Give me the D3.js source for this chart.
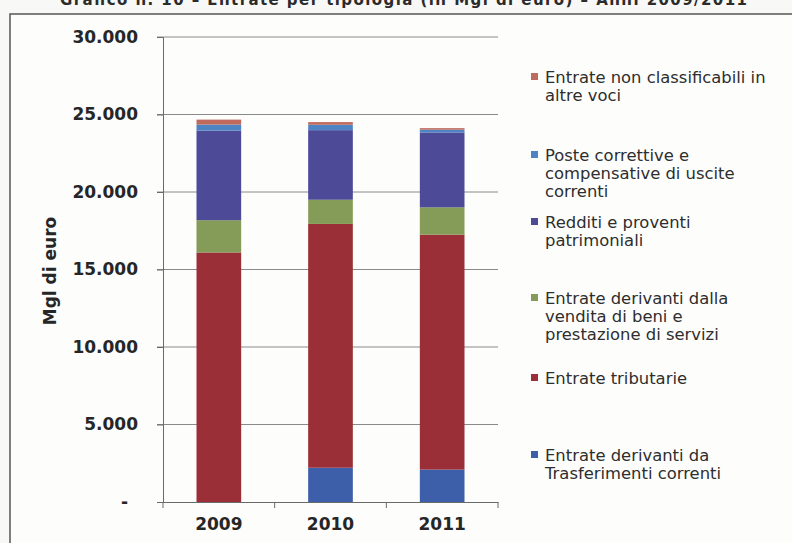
<!DOCTYPE html>
<html>
<head>
<meta charset="utf-8">
<script src="https://cdn.jsdelivr.net/npm/d3@7"></script>
<style>
  body { margin: 0; background: #f8f8f6; }
  svg { display: block; }
</style>
</head>
<body>
<script>
// data (Mgl di euro)
var years = ["2009", "2010", "2011"];
var seriesNames = [
    "Entrate derivanti da Trasferimenti correnti",
    "Entrate tributarie",
    "Entrate derivanti  dalla vendita di beni e prestazione di servizi",
    "Redditi e proventi patrimoniali",
    "Poste correttive e compensative di uscite correnti",
    "Entrate non classificabili in altre voci"
];
var trasferimenti = [0, 2210, 2090];
var tributarie = [16100, 15730, 15160];
var vendita = [2080, 1560, 1760];
var redditi = [5780, 4490, 4830];
var poste = [390, 350, 180];
var nonClass = [320, 170, 100];
var yTicks = [0, 5000, 10000, 15000, 20000, 25000, 30000];

// legend text, wrapped as in the picture (top to bottom)
var legendLines = [
    ["Entrate non classificabili in", "altre voci"],
    ["Poste correttive e", "compensative di uscite", "correnti"],
    ["Redditi e proventi", "patrimoniali"],
    ["Entrate derivanti  dalla", "vendita di beni e", "prestazione di servizi"],
    ["Entrate tributarie"],
    ["Entrate derivanti da", "Trasferimenti correnti"]
];

var colors = ["#3d5ea8", "#9a2f38", "#849c57", "#4d4a98", "#4f84c4", "#bf6a5c"];

var width = 792, height = 543;
var svg = d3.select("body").append("svg")
    .attr("width", width)
    .attr("height", height);

// title, cut off at the top edge of the scan
svg.append("text")
    .attr("x", 60).attr("y", 5)
    .attr("textLength", 687)
    .attr("font-family", "DejaVu Sans, Verdana, sans-serif")
    .attr("font-weight", "bold")
    .attr("font-size", 15)
    .attr("fill", "#2b2b2b")
    .text("Grafico n. 10 – Entrate per tipologia (in Mgl di euro) – Anni 2009/2011");

// frame of the chart (continues off the page)
svg.append("rect")
    .attr("x", 10).attr("y", 14)
    .attr("width", width).attr("height", height)
    .attr("fill", "#fdfdfc")
    .attr("stroke", "#555")
    .attr("stroke-width", 1.5);

// build table for stacking
var keys = ["trasf", "trib", "vend", "redd", "poste", "noncl"];
var table = years.map(function(y, i) {
    return {
        year: y,
        trasf: trasferimenti[i],
        trib: tributarie[i],
        vend: vendita[i],
        redd: redditi[i],
        poste: poste[i],
        noncl: nonClass[i]
    };
});
var stacked = d3.stack().keys(keys)(table);

var x = d3.scaleBand().domain(years).range([163, 498]).paddingInner(0.6).paddingOuter(0.3);
var y = d3.scaleLinear().domain([0, 30000]).range([502, 37]);

var it = d3.formatLocale({ decimal: ",", thousands: ".", grouping: [3], currency: ["€", ""] });
var fmt = it.format(",");

// gridlines
svg.append("g")
    .selectAll("line")
    .data(yTicks.slice(1))
    .enter()
    .append("line")
    .attr("x1", 157).attr("x2", 498)
    .attr("y1", function(d) { return y(d); })
    .attr("y2", function(d) { return y(d); })
    .attr("stroke", "#8a8a8a")
    .attr("stroke-width", 1);

// y axis
var yAxis = svg.append("g")
    .attr("transform", "translate(163,0)")
    .call(d3.axisLeft(y).tickValues(yTicks).tickSize(6).tickPadding(19)
        .tickFormat(function(d) { return d === 0 ? "-" : fmt(d); }));
yAxis.select(".domain").attr("stroke", "#6a6a6a");
yAxis.selectAll(".tick line").attr("stroke", "#6a6a6a");
yAxis.selectAll("text")
    .attr("font-family", "DejaVu Sans, Verdana, sans-serif")
    .attr("font-weight", "bold")
    .attr("font-size", 17)
    .attr("fill", "#262626")
    .attr("dx", function(d) { return d === 0 ? -10 : 0; });

// x axis with ticks between categories
var xAxis = svg.append("g")
    .attr("transform", "translate(0,502)")
    .call(d3.axisBottom(x).tickSize(0).tickPadding(16));
xAxis.select(".domain").attr("stroke", "#6a6a6a");
xAxis.selectAll("text")
    .attr("font-family", "DejaVu Sans, Verdana, sans-serif")
    .attr("font-weight", "bold")
    .attr("font-size", 17)
    .attr("fill", "#262626");
var bounds = d3.range(years.length + 1).map(function(i) {
    return x.range()[0] + i * (x.range()[1] - x.range()[0]) / years.length;
});
svg.append("g").selectAll("line")
    .data(bounds)
    .enter()
    .append("line")
    .attr("x1", function(d) { return d; })
    .attr("x2", function(d) { return d; })
    .attr("y1", 502).attr("y2", 508)
    .attr("stroke", "#6a6a6a");

// bars
svg.append("g")
    .selectAll("g")
    .data(stacked)
    .enter()
    .append("g")
    .attr("fill", function(d, i) { return colors[i]; })
    .selectAll("rect")
    .data(function(d) { return d; })
    .enter()
    .append("rect")
    .attr("x", function(d) { return x(d.data.year); })
    .attr("width", x.bandwidth())
    .attr("y", function(d) { return y(d[1]); })
    .attr("height", function(d) { return y(d[0]) - y(d[1]); });

// y axis title
svg.append("text")
    .attr("transform", "translate(56,271) rotate(-90)")
    .attr("text-anchor", "middle")
    .attr("font-family", "DejaVu Sans, Verdana, sans-serif")
    .attr("font-weight", "bold")
    .attr("font-size", 17)
    .attr("fill", "#262626")
    .text("Mgl di euro");

// legend (reverse of stacking order)
var legendTop = [77, 155, 222, 298, 378, 455];
var lineH = 18;
var legend = svg.append("g")
    .selectAll("g")
    .data(legendLines)
    .enter()
    .append("g")
    .attr("transform", function(d, i) { return "translate(0," + legendTop[i] + ")"; });
legend.append("rect")
    .attr("x", 531).attr("y", -4)
    .attr("width", 7).attr("height", 7)
    .attr("fill", function(d, i) { return colors[colors.length - 1 - i]; });
legend.selectAll("text")
    .data(function(d) { return d; })
    .enter()
    .append("text")
    .attr("font-family", "DejaVu Sans, Verdana, sans-serif")
    .attr("font-size", 16.4)
    .attr("fill", "#2e2e2e")
    .attr("x", 545)
    .attr("y", function(d, j) { return j * lineH; })
    .attr("dy", "0.35em")
    .text(function(d) { return d; });
</script>
</body>
</html>
